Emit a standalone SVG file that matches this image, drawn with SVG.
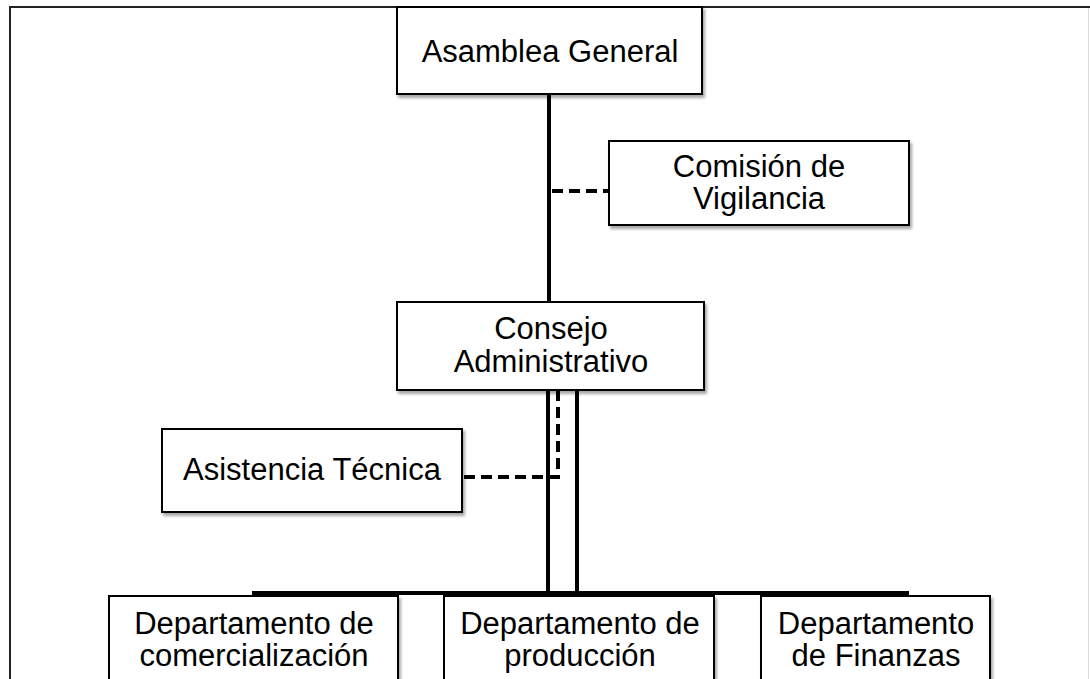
<svg xmlns="http://www.w3.org/2000/svg" width="1090" height="679" viewBox="0 0 1090 679">
<defs>
<filter id="sh" x="-10%" y="-10%" width="130%" height="140%">
<feDropShadow dx="2" dy="3" stdDeviation="1.5" flood-color="#000" flood-opacity="0.35"/>
</filter>
<style>
.box{fill:#fff;stroke:#000;stroke-width:2;filter:url(#sh)}
.t{font-family:"Liberation Sans",Arial,sans-serif;font-size:31px;fill:#000;text-anchor:middle}
.solid{stroke:#000;stroke-width:4;fill:none}
.dash{stroke:#000;stroke-width:4;fill:none;stroke-dasharray:11 6}
.frame{stroke:#222;stroke-width:2;fill:none}
</style>
</defs>
<rect width="1090" height="679" fill="#fff"/>
<path class="frame" d="M10,679 V7 H1090"/>
<line x1="1088.5" y1="8" x2="1088.5" y2="679" stroke="#ddd" stroke-width="1"/>
<g id="connectors">
<line class="solid" x1="549" y1="94" x2="549" y2="302"/>
<line class="dash" x1="552" y1="191" x2="609" y2="191"/>
<line class="solid" x1="548" y1="390" x2="548" y2="593"/>
<line class="solid" x1="577" y1="390" x2="577" y2="593"/>
<path class="dash" d="M558,390 V477 H462"/>
<line class="solid" x1="252" y1="593" x2="909" y2="593"/>
</g>
<g id="asamblea">
<rect class="box" x="397" y="7" width="305" height="87"/>
<text class="t" x="550" y="62">Asamblea General</text>
</g>
<g id="comision">
<rect class="box" x="609" y="141" width="300" height="84"/>
<text class="t" x="759" y="177">Comisión de<tspan x="759" dy="32">Vigilancia</tspan></text>
</g>
<g id="consejo">
<rect class="box" x="397" y="302" width="307" height="88"/>
<text class="t" x="551" y="339">Consejo<tspan x="551" dy="33">Administrativo</tspan></text>
</g>
<g id="asistencia">
<rect class="box" x="162" y="429" width="300" height="83"/>
<text class="t" x="312" y="480">Asistencia Técnica</text>
</g>
<g id="comercializacion">
<rect class="box" x="109" y="596" width="289" height="100"/>
<text class="t" x="254" y="634">Departamento de<tspan x="254" dy="32">comercialización</tspan></text>
</g>
<g id="produccion">
<rect class="box" x="444" y="596" width="270" height="100"/>
<text class="t" x="580" y="634">Departamento de<tspan x="580" dy="32">producción</tspan></text>
</g>
<g id="finanzas">
<rect class="box" x="761" y="596" width="229" height="100"/>
<text class="t" x="876" y="634">Departamento<tspan x="876" dy="32">de Finanzas</tspan></text>
</g>
</svg>
